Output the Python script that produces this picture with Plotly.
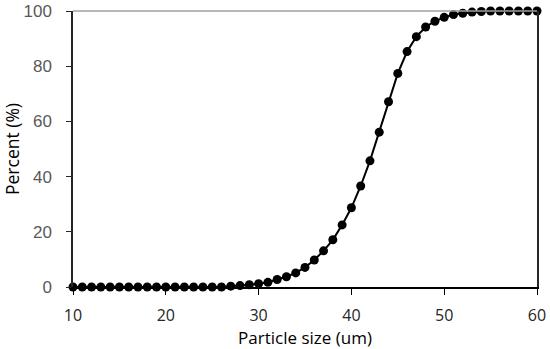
import plotly.graph_objs as go

# particle size distribution (cumulative %)
sizes = list(range(10, 61))
percent = [0, 0, 0, 0, 0, 0, 0, 0, 0, 0,
           0, 0, 0, 0, 0, 0, 0, 0.3, 0.5, 0.8,
           1.2, 1.7, 2.7, 3.7, 5.1, 7.1, 9.8, 13.1, 17.1, 22.5,
           28.7, 36.6, 45.7, 56.1, 67.1, 77.4, 85.3, 90.7, 94.2, 96.3,
           97.7, 98.7, 99.2, 99.6, 99.8, 100, 100, 100, 100, 100,
           100]
x_ticks = [10, 20, 30, 40, 50, 60]
y_ticks = [0, 20, 40, 60, 80, 100]

fig = go.Figure()
fig.add_trace(
    go.Scatter(x=sizes, y=percent, mode='lines+markers',
               line=dict(color='black', width=2),
               marker=dict(color='black', size=9),
               cliponaxis=False))

fig.update_layout(
    width=550, height=349,
    margin=dict(l=73, r=13, t=11, b=62),
    plot_bgcolor='white', paper_bgcolor='white',
    showlegend=False,
    font=dict(family='Open Sans', size=15, color='#262626'))

fig.update_xaxes(range=[10, 60], tickvals=x_ticks, automargin=False,
                 showline=True, linecolor='black', linewidth=1.5,
                 ticks='outside', ticklen=6, tickcolor='black',
                 ticklabelstandoff=7,
                 showgrid=False, zeroline=False,
                 tickfont=dict(family='Open Sans', color='#262626', size=16),
                 title=dict(text='Particle size (um)', standoff=6,
                            font=dict(color='black', size=17)))
fig.update_yaxes(range=[0, 100], tickvals=y_ticks, automargin=False,
                 showline=True, linecolor='#262626', linewidth=1.5, mirror=True,
                 ticks='outside', ticklen=5, tickcolor='#262626',
                 ticklabelstandoff=11,
                 showgrid=False, zeroline=False,
                 tickfont=dict(family='Liberation Sans', color='#595959', size=17),
                 title=dict(text='Percent (%)', standoff=0,
                            font=dict(color='black', size=17.5)))

# gray top border of the plot area
fig.add_shape(type='line', xref='paper', yref='paper', x0=0, x1=1, y0=1, y1=1,
              line=dict(color='#a0a0a0', width=1.5))

fig.write_html("out.html", config={'displayModeBar': False},
               post_script="document.body.style.margin='0';")
